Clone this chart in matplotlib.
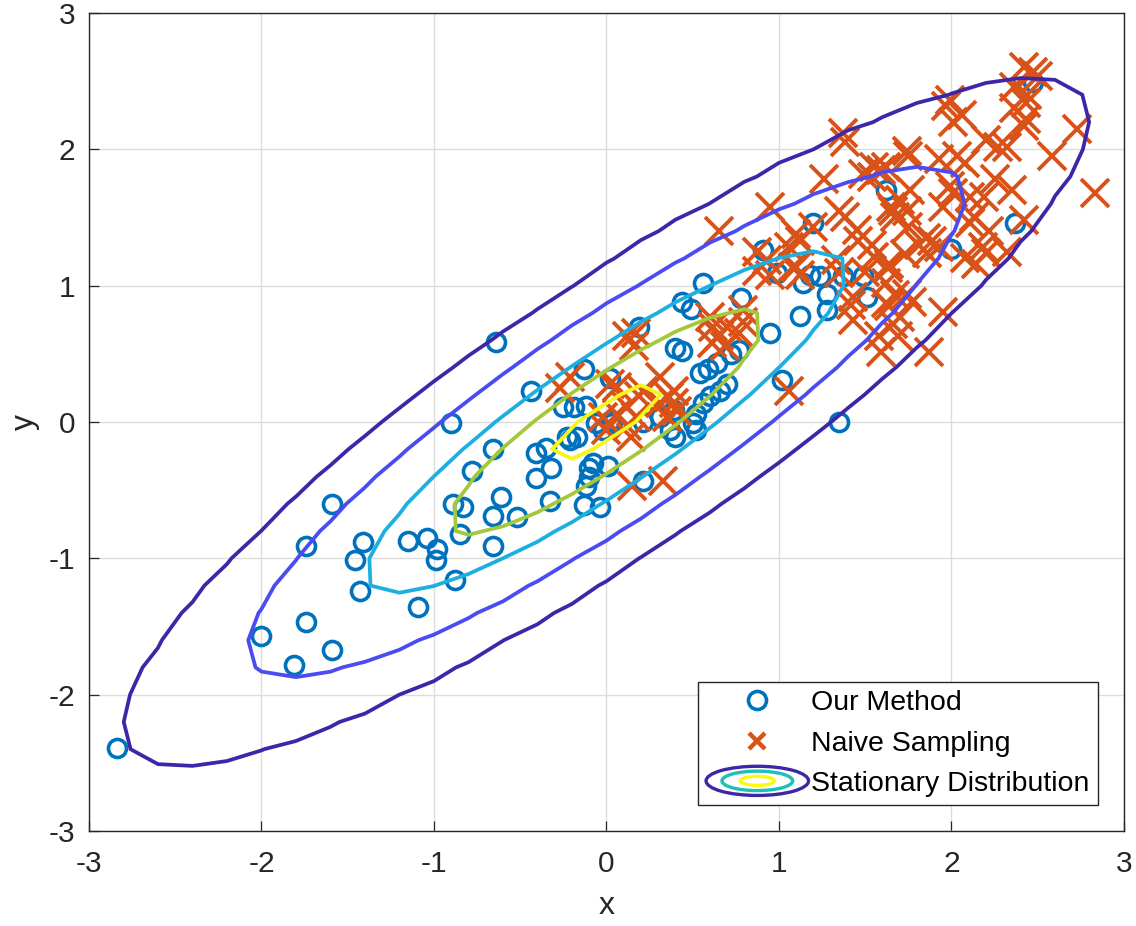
import numpy as np
import matplotlib
matplotlib.use('Agg')
import matplotlib.pyplot as plt
from matplotlib.patches import Ellipse
from matplotlib.legend_handler import HandlerBase
from matplotlib.lines import Line2D

plt.rcParams['font.family'] = ['Liberation Sans', 'DejaVu Sans']
plt.rcParams['axes.unicode_minus'] = False

# samples from our method
ours_x = [-2.84, -2.00, -1.74, -1.59, -1.81, -1.59, -1.74, -1.41, -1.46, -1.43,
          -1.09, -0.88, -1.15, -1.04, -0.98, -0.99, -0.85, -0.89, -0.83, -0.78,
          -0.66, -0.61, -0.66, -0.52, -0.66, -0.33, -0.90, -0.64, -0.44, -0.25,
          -0.13, -0.12, 0.03, -0.21, -0.41, -0.35, -0.32, -0.41, -0.17, -0.10,
          -0.08, -0.10, 0.01, -0.12, -0.13, -0.04, 0.21, 0.56, 0.44, 0.49,
          0.78, 0.19, 0.40, 0.44, 0.02, 0.54, 0.59, 0.64, 0.72, 0.77,
          0.95, 0.70, 0.66, 0.60, 0.56, 0.52, 0.50, 0.39, 0.31, 0.37,
          0.40, 0.52, 0.02, -0.06, -0.19, -0.23, -0.02, 0.21, 1.20, 0.91,
          0.99, 1.14, 1.18, 1.24, 1.28, 1.28, 1.12, 1.37, 1.49, 1.51,
          1.62, 2.47, 2.37, 2.00, 1.02, 1.35]
ours_y = [-2.39, -1.57, -1.47, -1.67, -1.78, -0.60, -0.91, -0.88, -1.01, -1.24,
          -1.36, -1.16, -0.87, -0.85, -0.93, -1.01, -0.82, -0.60, -0.62, -0.36,
          -0.20, -0.55, -0.69, -0.70, -0.91, -0.58, -0.01, 0.59, 0.23, 0.11,
          0.39, 0.12, -0.01, -0.13, -0.23, -0.19, -0.34, -0.41, -0.11, -0.34,
          -0.30, -0.40, -0.32, -0.47, -0.61, -0.62, -0.43, 1.02, 0.88, 0.83,
          0.91, 0.70, 0.54, 0.52, 0.32, 0.36, 0.39, 0.43, 0.50, 0.53,
          0.65, 0.28, 0.23, 0.19, 0.14, 0.06, -0.01, 0.09, 0.04, -0.06,
          -0.11, -0.06, 0.01, -0.01, 0.11, -0.11, -0.06, 0.00, 1.46, 1.26,
          1.09, 1.02, 1.08, 1.07, 0.94, 0.82, 0.78, 1.07, 1.07, 0.92,
          1.70, 2.49, 1.46, 1.27, 0.31, 0.00]

# samples from naive sampling
naive_x = [2.47, 2.42, 2.50, 2.44, 2.36, 1.97, 2.06, 2.01, 2.36, 2.43,
           2.73, 2.58, 2.83, 2.27, 2.20, 2.08, 2.03, 1.93, 1.75, 2.35,
           2.25, 2.19, 2.01, 2.13, 2.22, 2.18, 2.32, 2.42, 2.08, 1.93,
           1.85, 1.95, 1.87, 1.59, 1.69, 1.77, 1.67, 1.63, 1.54, 1.46,
           1.67, 1.65, 1.66, 1.75, 1.81, 1.73, 1.54, 1.59, 1.38, 1.26,
           1.38, 1.20, 1.12, 0.95, 0.65, 0.87, 1.06, 1.42, 1.50, 1.12,
           0.95, 1.06, 0.61, 0.79, 0.69, 0.16, 0.36, 0.41, 1.37, 1.74,
           1.55, 1.49, 1.62, 1.35, 1.70, 1.10, 1.45, 1.33, 1.55, 1.64,
           1.10, 1.35, 1.62, 1.62, 1.74, 1.70, 1.43, 1.58, 0.79, 0.62,
           0.77, 1.99, 2.32, 2.42, 2.43, 2.11, 1.99, 1.95, 1.76, 1.74,
           1.89, 2.11, 2.20, 2.14, 1.66, 1.64, 1.43, 1.86, 1.08, 0.93,
           0.17, 0.12, 0.60, 0.65, 0.70, 0.87, -0.21, 0.02, 0.31, 0.39,
           0.39, 0.35, 0.12, -0.02, 0.06, 0.17, 0.00, 0.12, 0.21, 0.31,
           -0.27, 0.06, 0.14, 0.15, 0.19, 0.33]
naive_y = [2.57, 2.60, 2.54, 2.40, 2.46, 2.32, 2.25, 2.20, 2.30, 2.22,
           2.15, 1.95, 1.68, 2.02, 2.07, 1.90, 1.95, 1.93, 1.95, 1.70,
           1.78, 1.65, 1.68, 1.50, 1.40, 1.28, 1.25, 1.48, 1.20, 1.28,
           1.35, 0.81, 0.51, 0.51, 0.63, 0.88, 0.93, 1.13, 1.30, 1.33,
           1.50, 1.58, 1.55, 1.43, 1.30, 1.23, 1.80, 1.85, 2.05, 1.78,
           1.50, 1.43, 1.33, 1.58, 1.40, 1.25, 1.28, 0.86, 1.10, 1.08,
           1.08, 0.23, 0.58, 0.73, 0.56, 0.56, 0.18, 0.08, 2.12, 1.99,
           1.87, 1.82, 1.87, 1.55, 1.63, 1.38, 1.41, 1.19, 1.21, 1.16,
           1.14, 1.09, 1.02, 0.87, 0.94, 0.77, 0.75, 0.63, 0.82, 0.70,
           0.65, 2.36, 2.02, 2.17, 2.34, 1.65, 1.73, 1.58, 1.70, 1.55,
           1.33, 1.46, 1.24, 1.16, 0.72, 0.85, 0.92, 1.24, 1.14, 1.19,
           0.65, 0.63, 0.77, 0.63, 0.70, 1.11, 0.33, 0.28, 0.33, 0.23,
           0.14, 0.04, 0.11, 0.04, 0.06, 0.04, -0.06, -0.03, 0.23, 0.14,
           0.25, 0.26, -0.11, -0.47, 0.19, -0.43]

# stationary distribution (2d gaussian) and the contour levels drawn
mu = [0.0, 0.0]
sigma_x, sigma_y, rho = 1.0, 0.9, 0.89
radii = [2.80, 2.08, 1.40, 0.93, 0.40]   # mahalanobis radius of each level
level_colors = ['#3E26A8', '#4A4CF2', '#1CAFE0', '#A4C83B', '#F6F617']

blue = '#0072BD'
orange = '#D95319'


class ContourHandler(HandlerBase):
    def create_artists(self, legend, orig_handle, xdescent, ydescent,
                       width, height, fontsize, trans):
        cx = width / 2 - xdescent
        cy = height / 2 - ydescent
        arts = []
        for w, h, c in [(1.0, 21.0, '#3E26A8'), (0.69, 14.0, '#1FBFB8'),
                        (0.33, 6.5, '#F9FB0E')]:
            e = Ellipse((cx, cy), width * w, h, fill=False, edgecolor=c,
                        linewidth=2.4, transform=trans)
            arts.append(e)
        return arts


fig = plt.figure(figsize=(11.36, 9.26), dpi=100)
ax = fig.add_axes([0.0783, 0.1026, 0.9111, 0.8834])

ax.plot(ours_x, ours_y, 'o', color=blue, markerfacecolor='none',
        markersize=13, markeredgewidth=2.6, linestyle='none', zorder=3)
ax.plot(naive_x, naive_y, 'x', color=orange, markersize=20,
        markeredgewidth=2.8, linestyle='none', zorder=4)

gx = np.linspace(-3, 3, 31)
gy = np.linspace(-3, 3, 31)
X, Y = np.meshgrid(gx, gy)
dx = (X - mu[0]) / sigma_x
dy = (Y - mu[1]) / sigma_y
m2 = (dx ** 2 - 2 * rho * dx * dy + dy ** 2) / (1 - rho ** 2)
Z = np.exp(-0.5 * m2)
levels = [np.exp(-0.5 * r ** 2) for r in radii]
ax.contour(X, Y, Z, levels=levels, colors=level_colors, linewidths=2.7,
           zorder=5)

ax.set_xlim(-3, 3)
ax.set_ylim(-3, 3)
ax.set_xticks(range(-3, 4))
ax.set_yticks(range(-3, 4))
ax.grid(True, color='#DCDCDC', linewidth=1.0)
ax.set_axisbelow(True)
ax.tick_params(direction='in', length=7, width=0.9,
               labelsize=21.5, colors='#262626')
ax.tick_params(axis='x', pad=14)
ax.tick_params(axis='y', pad=10)
for s in ax.spines.values():
    s.set_color('#262626')
    s.set_linewidth(1.0)

ax.set_xlabel('x', fontsize=23, color='#262626', labelpad=9)
ax.set_ylabel('y', fontsize=23, color='#262626', labelpad=6)

h1 = Line2D([], [], marker='o', color=blue, markerfacecolor='none',
            markersize=13, markeredgewidth=2.6, linestyle='none')
h2 = Line2D([], [], marker='x', color=orange, markersize=11,
            markeredgewidth=3.2, linestyle='none')
h3 = object()
leg = ax.legend([h1, h2, h3], ['Our Method', 'Naive Sampling',
                               'Stationary Distribution'],
                handler_map={h3: ContourHandler()},
                loc='lower right', fontsize=20.5, frameon=True, fancybox=False,
                edgecolor='#262626', framealpha=1, handlelength=3.6,
                handletextpad=0.1, labelspacing=0.5, borderpad=0.3,
                borderaxespad=0.9)
leg.get_frame().set_linewidth(1.0)
leg.set_zorder(10)

fig.savefig('out.png', dpi=100)
